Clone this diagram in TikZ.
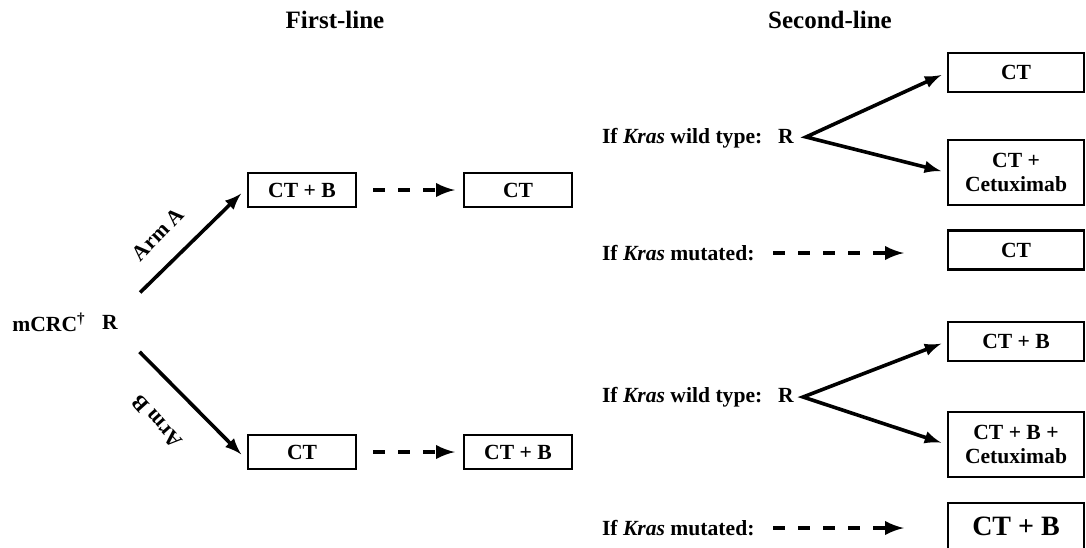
\documentclass[tikz,border=0pt]{standalone}
\usepackage{fontspec}
\setmainfont{Liberation Serif}
\usepackage{tikz}
\usetikzlibrary{arrows}

\begin{document}
\begin{tikzpicture}[>=latex,line join=miter,x=0.5pt,y=-0.5pt,
  font=\bfseries\fontsize{10.8}{12}\selectfont,
  box/.style={draw,line width=1.2pt,minimum width=54pt,minimum height=17pt,inner sep=1pt,align=center},
  wide/.style={box,minimum width=68pt,minimum height=19.5pt},
  tall/.style={wide,minimum height=32.5pt},
  arr/.style={->,line width=1.8pt},
  darr/.style={->,line width=2.2pt,dash pattern=on 6pt off 6.5pt},
  head/.style={font=\bfseries\fontsize{12.5}{14}\selectfont}]
\useasboundingbox (0,0) rectangle (1086,547);
%%
  % Headings
  \node[head] (first) at (335,20) {First-line};
  \node[head] (second) at (830,20) {Second-line};
  % Node: randomisation
  \node (mcrc) at (49,322) {mCRC\textsuperscript{\textdagger}};
  \node (r0) at (110,322) {R};
  % Nodes: first-line boxes
  \node[box] (a1) at (302,190) {CT + B};
  \node[box] (a2) at (518,190) {CT};
  \node[box] (b1) at (302,452) {CT};
  \node[box] (b2) at (518,452) {CT + B};
  % Edge: R -> arm A / arm B
  \draw [arr,shorten <=11pt,shorten >=4pt] (r0) -- (a1.west |- 0,188);
  \draw [arr,shorten <=11pt,shorten >=4pt] (r0) -- (b1.west |- 0,460);
  \node[rotate=46] (arma) at (158,234) {Arm A};
  \node[rotate=132] (armb) at (157,422) {Arm B};
  % Edge: first-line -> next
  \draw [darr,shorten <=8pt,shorten >=4pt] (a1) -- (a2);
  \draw [darr,shorten <=8pt,shorten >=4pt] (b1) -- (b2);
%
  % Nodes: second-line, arm A
  \node[anchor=west] (kw1) at (595,138) {If \textit{Kras} wild type:};
  \node (r1) at (786,136) {R};
  \coordinate (f1) at (806,137);
  \node[wide] (c1) at (1016,72.5) {CT};
  \node[tall] (c2) at (1016,172.5) {CT +\\Cetuximab};
  \node[anchor=west] (km1) at (595,253) {If \textit{Kras} mutated:};
  \node[wide] (c3) at (1016,250) {CT};
  \draw [arr,<->,shorten <=3pt,shorten >=3pt] (c1.west) -- (f1) -- (c2.west);
  \draw [darr,shorten >=21.5pt] (773,253) -- (c3.west |- 0,253);
%
  % Nodes: second-line, arm B
  \node[anchor=west] (kw2) at (595,397) {If \textit{Kras} wild type:};
  \node (r2) at (786,395) {R};
  \coordinate (f2) at (803,397);
  \node[wide] (d1) at (1016,341.5) {CT + B};
  \node[tall] (d2) at (1016,444.5) {CT + B +\\Cetuximab};
  \node[anchor=west] (km2) at (595,528) {If \textit{Kras} mutated:};
  \node[wide,minimum height=23.5pt,font=\bfseries\fontsize{14}{16}\selectfont] (d3) at (1016,526.5) {CT + B};
  \draw [arr,<->,shorten <=3pt,shorten >=3pt] (d1.west) -- (f2) -- (d2.west);
  \draw [darr,shorten >=21.5pt] (773,528) -- (d3.west |- 0,528);
%
\end{tikzpicture}
\end{document}
